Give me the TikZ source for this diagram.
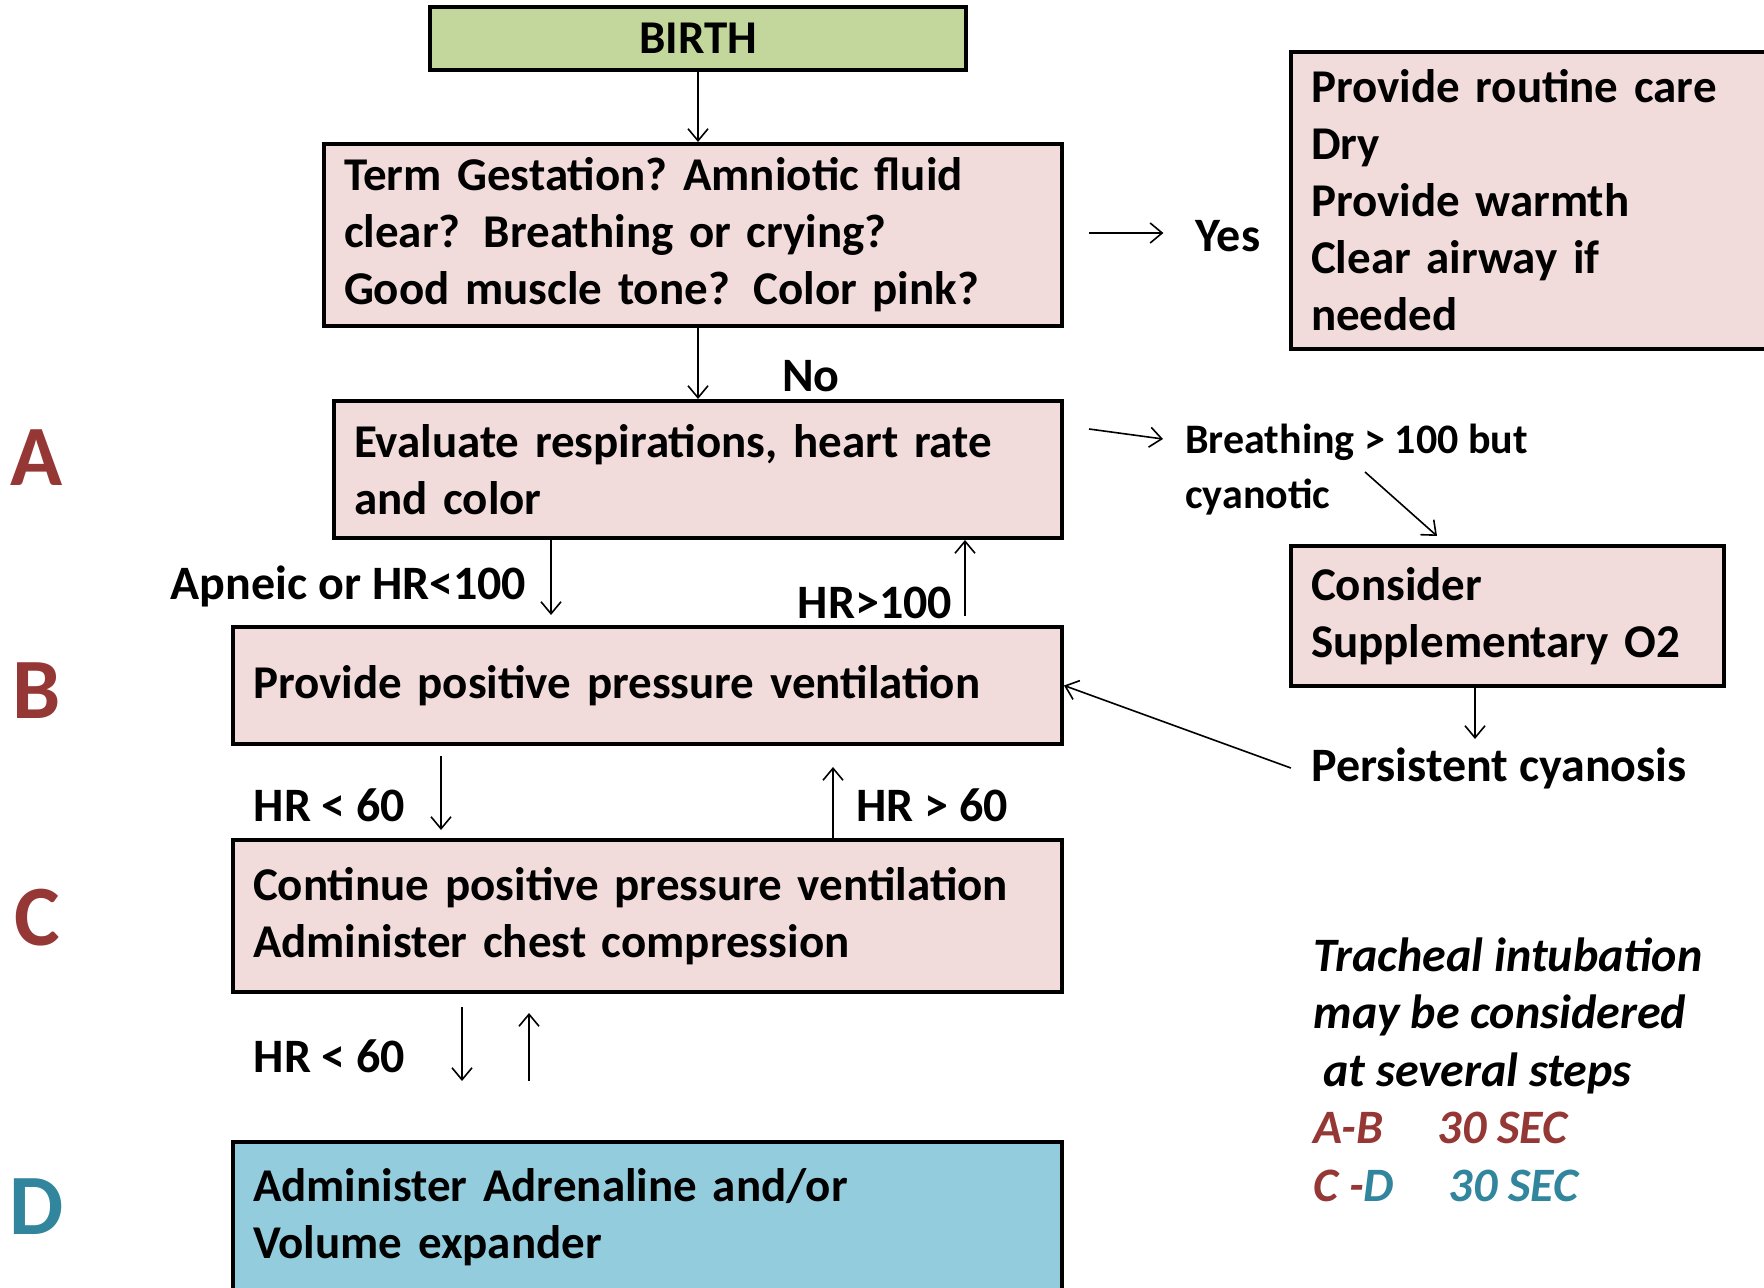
\documentclass[tikz,border=0pt]{standalone}
\usepackage{fontspec}
\setmainfont{Carlito}
\usepackage{xcolor}
\usetikzlibrary{arrows.meta, positioning}
\frenchspacing

\definecolor{boxpink}{HTML}{F2DCDB}
\definecolor{birthgreen}{HTML}{C3D69B}
\definecolor{adrblue}{HTML}{93CDDD}
\definecolor{stepred}{HTML}{953735}
\definecolor{stepteal}{HTML}{31859C}

\begin{document}
\begin{tikzpicture}[
    x=0.5pt, y=-0.5pt,
    box/.style={rectangle, draw=black, line width=2pt, fill=boxpink, align=left, inner xsep=10pt, inner ysep=0pt, font=\fontsize{23.5}{28.5}\selectfont\bfseries},
    lbl/.style={font=\fontsize{24}{28.5}\selectfont\bfseries, inner sep=0pt},
    small/.style={font=\fontsize{21}{27.5}\selectfont\bfseries, inner sep=0pt, align=left},
    stepletter/.style={font=\fontsize{43}{43}\selectfont\bfseries, inner sep=0pt},
    arrow/.style={-{Straight Barb[length=6pt, width=10pt]}, line width=0.8pt}
]
\useasboundingbox (0,0) rectangle (1764,1288);
\clip (0,0) rectangle (1764,1288);

\node[box, fill=birthgreen, align=center, text width=248pt, minimum height=31.5pt] (birth) at (698,38.5) {BIRTH};
\node[box, text width=349pt, minimum height=91pt] (term) at (693,235) {Term Gestation? Amniotic fluid\\clear?\ \,Breathing or crying?\\Good muscle tone?\ \,Color pink?};
\node[box, text width=229.5pt, minimum height=148.5pt] (routine) at (1540.5,200.5) {Provide routine care\\Dry\\Provide warmth\\Clear airway if\\needed};
\node[box, text width=344pt, minimum height=68.5pt] (eval) at (698,469.5) {Evaluate respirations, heart rate\\and color};
\node[box, text width=394.5pt, minimum height=58.5pt] (ppv) at (647.5,685.5) {Provide positive pressure ventilation};
\node[box, text width=394.5pt, minimum height=76pt] (cont) at (647.5,916) {Continue positive pressure ventilation\\Administer chest compression};
\node[box, fill=adrblue, text width=394.5pt, minimum height=75pt] (adr) at (647.5,1217) {Administer Adrenaline and/or\\Volume expander};
\node[box, text width=196.5pt, minimum height=70pt] (oxygen) at (1507.5,616) {Consider\\Supplementary O2};

\node[stepletter, text=stepred] (stepA) at (37,458) {A};
\node[stepletter, text=stepred] (stepB) at (37,691) {B};
\node[stepletter, text=stepred] (stepC) at (37,918) {C};
\node[stepletter, text=stepteal] (stepD) at (37,1207) {D};

\node[lbl] (yes) at (1228,236) {Yes};
\node[lbl] (no) at (811,376) {No};
\node[small, anchor=west] (breath) at (1185,470) {Breathing > 100 but\\cyanotic};
\node[lbl] (apneic) at (348.5,586) {Apneic or HR<100};
\node[lbl] (hrup) at (875,603) {HR>100};
\node[lbl] (persist) at (1499,768) {Persistent cyanosis};
\node[lbl] (hrlow) at (329.5,805) {HR < 60};
\node[lbl] (hrhigh) at (932,805) {HR > 60};
\node[lbl] (hrlow2) at (329.5,1056) {HR < 60};
\node[lbl, font=\fontsize{24}{28.75}\selectfont\bfseries\itshape, align=left, anchor=north west] (note) at (1313,937) {Tracheal intubation\\may be considered\\\hspace{5pt}at several steps\\{\color{stepred}A-B\hspace{22pt} 30 SEC}\\{\color{stepred}C -}{\color{stepteal}D\hspace{22pt} 30 SEC}};

\coordinate (yesstart) at (1089,233);
\coordinate (breathstart) at (1089,429);
\coordinate (breathend) at (1163,439);
\coordinate (o2start) at (1365,472);
\coordinate (o2end) at (1437,536);
\coordinate (apneicend) at (551,615);
\coordinate (hrupstart) at (965,616);
\coordinate (o2down) at (1475,739);
\coordinate (hrlowtop) at (441,756);
\coordinate (hrlowend) at (441,830);
\coordinate (hrhighend) at (833,767);
\coordinate (cdtop) at (462,1007);
\coordinate (cdend) at (462,1081);
\coordinate (dcstart) at (529,1081);
\coordinate (dcend) at (529,1013);

\draw[arrow] (birth.south) -- (birth.south |- term.north);
\draw[arrow] (yesstart) -- ([xshift=-16pt]yes.west |- yesstart);
\draw[arrow] (eval.north |- term.south) -- (eval.north);
\draw[arrow] (breathstart) -- (breathend);
\draw[arrow] (o2start) -- (o2end);
\draw[arrow] (apneicend |- eval.south) -- (apneicend);
\draw[arrow] (hrupstart) -- (hrupstart |- eval.south);
\draw[arrow] ([xshift=-10pt]persist.west) -- (ppv.east);
\draw[arrow] (o2down |- oxygen.south) -- (o2down);
\draw[arrow] (hrlowtop) -- (hrlowend);
\draw[arrow] (hrhighend |- cont.north) -- (hrhighend);
\draw[arrow] (cdtop) -- (cdend);
\draw[arrow] (dcstart) -- (dcend);

\end{tikzpicture}
\end{document}
